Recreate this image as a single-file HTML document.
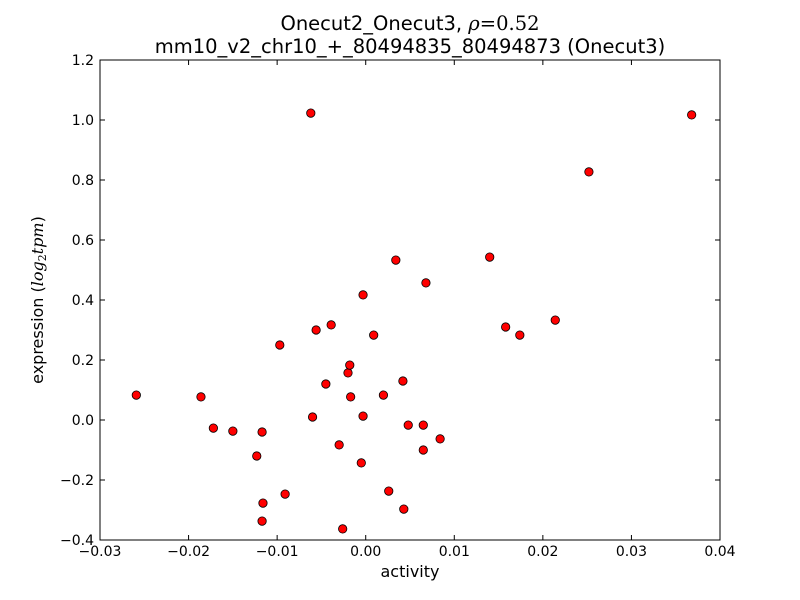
<!DOCTYPE html>
<html><head><meta charset="utf-8"><style>
body{margin:0;background:#fff}
svg{display:block;font-family:"DejaVu Sans","Liberation Sans",sans-serif}
</style></head><body>
<svg id="chart" width="800" height="600" xmlns="http://www.w3.org/2000/svg">
<rect width="800" height="600" fill="#fff"/>
<text x="410" y="30" text-anchor="middle" font-size="19.5">Onecut2_Onecut3, <tspan font-family="'DejaVu Serif',serif" font-style="italic">ρ</tspan><tspan font-family="'DejaVu Serif',serif">=0.52</tspan></text>
<text x="410" y="53" text-anchor="middle" font-size="19.5">mm10_v2_chr10_+_80494835_80494873 (Onecut3)</text>
<text x="410" y="577" text-anchor="middle" font-size="16">activity</text>
<text transform="translate(43,300) rotate(-90)" text-anchor="middle" font-size="16">expression (<tspan font-family="'DejaVu Serif',serif" font-style="italic">log</tspan><tspan font-size="11" dy="3" font-family="'DejaVu Serif',serif">2</tspan><tspan dy="-3" font-family="'DejaVu Serif',serif" font-style="italic">tpm</tspan>)</text>
<g id="ticks"></g>
<g id="points"></g>
<rect x="100" y="60" width="620" height="480" fill="none" stroke="#000" stroke-width="1"/>
</svg>
<script>
const xValues=[-0.0259,-0.0186,-0.0172,-0.0150,-0.0123,-0.0117,-0.0116,-0.0117,-0.0091,-0.0097,-0.0062,-0.0056,-0.0060,-0.0039,-0.0045,-0.0030,-0.0026,-0.0020,-0.0018,-0.0017,-0.0003,-0.0003,-0.0005,0.0009,0.0020,0.0026,0.0034,0.0042,0.0043,0.0048,0.0065,0.0065,0.0068,0.0084,0.0140,0.0158,0.0174,0.0214,0.0252,0.0368];
const yValues=[0.083,0.077,-0.027,-0.037,-0.120,-0.040,-0.277,-0.337,-0.247,0.250,1.023,0.300,0.010,0.317,0.120,-0.083,-0.363,0.157,0.183,0.077,0.417,0.013,-0.143,0.283,0.083,-0.237,0.533,0.130,-0.297,-0.017,-0.017,-0.100,0.457,-0.063,0.543,0.310,0.283,0.333,0.827,1.017];
const xTicks=[-0.03,-0.02,-0.01,0.00,0.01,0.02,0.03,0.04];
const xTickLabels=["−0.03","−0.02","−0.01","0.00","0.01","0.02","0.03","0.04"];
const yTicks=[-0.4,-0.2,0.0,0.2,0.4,0.6,0.8,1.0,1.2];
const yTickLabels=["−0.4","−0.2","0.0","0.2","0.4","0.6","0.8","1.0","1.2"];
const NS="http://www.w3.org/2000/svg";
const X=v=>100+(v+0.03)/0.07*620;
const Y=v=>540-(v+0.4)/1.6*480;
function mk(tag,attrs,parent){const e=document.createElementNS(NS,tag);for(const k in attrs)e.setAttribute(k,attrs[k]);parent.appendChild(e);return e;}
const tg=document.getElementById('ticks');
xTicks.forEach((t,i)=>{const x=X(t);
 mk('line',{x1:x,x2:x,y1:540,y2:535,stroke:'#000'},tg);
 mk('line',{x1:x,x2:x,y1:60,y2:65,stroke:'#000'},tg);
 const tx=mk('text',{x:x,y:556,'text-anchor':'middle','font-size':14},tg);tx.textContent=xTickLabels[i];
 
 
});
yTicks.forEach((t,i)=>{const y=Y(t);
 mk('line',{x1:100,x2:105,y1:y,y2:y,stroke:'#000'},tg);
 mk('line',{x1:715,x2:720,y1:y,y2:y,stroke:'#000'},tg);
 const tx=mk('text',{x:94,y:y+5,'text-anchor':'end','font-size':14},tg);tx.textContent=yTickLabels[i];
 
 
});
const pg=document.getElementById('points');
xValues.forEach((v,i)=>{
 const c=mk('circle',{cx:X(v),cy:Y(yValues[i]),r:4.2,fill:'#ff0000',stroke:'#000','stroke-width':0.8},pg);
 
 
});
</script>
</body></html>
